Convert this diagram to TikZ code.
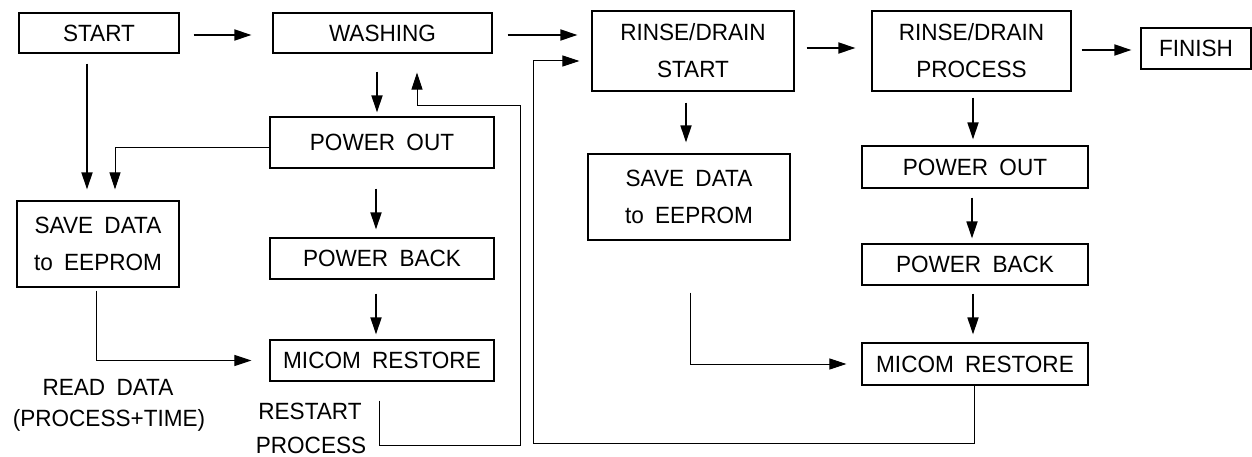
\documentclass[tikz,border=0pt]{standalone}
\usepackage{fontspec}
\setmainfont{Liberation Sans}[WordSpace=1.8,FakeStretch=0.96]
\usetikzlibrary{arrows.meta}
\begin{document}
\begin{tikzpicture}[x=1pt,y=-1pt,
  box/.style={draw, line width=1.2pt, inner sep=0pt, align=center, font=\fontsize{23.5}{37}\selectfont},
  lbl/.style={inner sep=0pt, font=\fontsize{23.5}{26}\selectfont},
  arr/.style={line width=1.8pt, -{Triangle[length=17pt,width=11pt]}},
  route/.style={line width=1pt, -{Triangle[length=17pt,width=11pt]}}]
\useasboundingbox (0,0) rectangle (1252,457);

% boxes
\node[box, minimum width=160pt, minimum height=40pt] (start) at (99,33) {START};
\node[box, minimum width=219pt, minimum height=40pt] (washing) at (382.5,33) {WASHING};
\node[box, minimum width=224pt, minimum height=51pt] (po1) at (382,142.5) {POWER OUT};
\node[box, minimum width=224pt, minimum height=41pt] (pb1) at (382,258.5) {POWER BACK};
\node[box, minimum width=224pt, minimum height=41pt] (mr1) at (382,360.5) {MICOM RESTORE};
\node[box, minimum width=162pt, minimum height=86pt] (sd1) at (98,244) {SAVE DATA\\to EEPROM};
\node[box, minimum width=202pt, minimum height=80pt] (rds) at (693,51) {RINSE/DRAIN\\START};
\node[box, minimum width=202pt, minimum height=86pt] (sd2) at (689,197) {SAVE DATA\\to EEPROM};
\node[box, minimum width=199pt, minimum height=80pt] (rdp) at (971.5,51) {RINSE/DRAIN\\PROCESS};
\node[box, minimum width=110pt, minimum height=41pt] (finish) at (1196,48.5) {FINISH};
\node[box, minimum width=226pt, minimum height=42pt] (po2) at (975,167) {POWER OUT};
\node[box, minimum width=226pt, minimum height=41pt] (pb2) at (975,264.5) {POWER BACK};
\node[box, minimum width=226pt, minimum height=42pt] (mr2) at (975,364) {MICOM RESTORE};

% labels
\node[lbl] (rd1) at (108,387) {READ DATA};
\node[lbl] (rd2) at (109,420) {(PROCESS+TIME)};
\node[lbl] (rp1) at (310,411) {RESTART};
\node[lbl] (rp2) at (311,445.5) {PROCESS};

% routing coordinates
\coordinate (c1) at (520,445);
\coordinate (c2) at (520,106);
\coordinate (c3) at (533,443);
\coordinate (c4) at (533,61);

% straight arrows
\draw[arr, shorten <=14pt, shorten >=21pt] ([yshift=-2pt]start.east) -- ([yshift=-2pt]start.east -| washing.west);
\draw[arr, shorten <=15pt, shorten >=14pt] ([yshift=-2pt]washing.east) -- ([yshift=-2pt]washing.east -| rds.west);
\draw[arr, shorten <=12pt, shorten >=16pt] ([yshift=3pt]rds.east) -- ([yshift=3pt]rds.east -| rdp.west);
\draw[arr, shorten <=10pt, shorten >=9pt] ([yshift=1pt]rdp.east) -- ([yshift=1pt]rdp.east -| finish.west);
\draw[arr, shorten <=18pt, shorten >=4pt] ([xshift=-5.5pt]washing.south) -- ([xshift=-5.5pt]washing.south |- po1.north);
\draw[arr, shorten <=20pt, shorten >=8pt] ([xshift=-6pt]po1.south) -- ([xshift=-6pt]po1.south |- pb1.north);
\draw[arr, shorten <=14pt, shorten >=5pt] ([xshift=-6pt]pb1.south) -- ([xshift=-6pt]pb1.south |- mr1.north);
\draw[arr, shorten <=10pt, shorten >=11pt] ([xshift=-12pt]start.south) -- ([xshift=-12pt]start.south |- sd1.north);
\draw[arr, shorten <=11pt, shorten >=11pt] ([xshift=-7pt]rds.south) -- ([xshift=-7pt]rds.south |- sd2.north);
\draw[arr, shorten <=6pt, shorten >=6pt] ([xshift=1.5pt]rdp.south) -- ([xshift=1.5pt]rdp.south |- po2.north);
\draw[arr, shorten <=9pt, shorten >=5pt] ([xshift=-3pt]po2.south) -- ([xshift=-3pt]po2.south |- pb2.north);
\draw[arr, shorten <=8pt, shorten >=8pt] ([xshift=-2pt]pb2.south) -- ([xshift=-2pt]pb2.south |- mr2.north);

% routed connectors
\draw[route, shorten >=11pt] ([yshift=-5.5pt]po1.west) -| ([xshift=17pt]sd1.north);
\draw[route, shorten <=3pt, shorten >=18pt] ([xshift=-2pt]sd1.south) |- (mr1.west);
\draw[route, shorten <=19pt, shorten >=19pt] ([xshift=-3pt]mr1.south) |- (c1) -- (c2) -| ([xshift=34.5pt]washing.south);
\draw[route, shorten >=12pt] ([xshift=-1pt]mr2.south) |- (c3) -- (c4) -- (c4 -| rds.west);
\draw[route, shorten <=52pt, shorten >=15pt] ([xshift=1pt]sd2.south) |- (mr2.west);
\end{tikzpicture}
\end{document}
